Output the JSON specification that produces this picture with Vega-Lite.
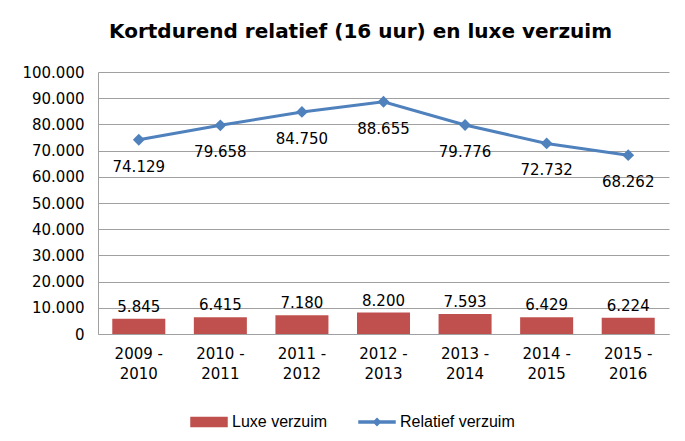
{
  "$schema": "https://vega.github.io/schema/vega-lite/v6.json",
  "width": 571,
  "height": 262,
  "autosize": {"type": "none"},
  "padding": {"left": 98, "top": 72, "right": 16, "bottom": 107},
  "background": "white",
  "config": {
    "locale": {"number": {"decimal": ",", "thousands": ".", "grouping": [3], "currency": ["€", ""]}},
    "view": {"stroke": null},
    "font": "DejaVu Sans",
    "axisY": {
      "title": null,
      "format": ",d",
      "grid": true,
      "gridColor": "#A0A0A0",
      "domainColor": "#A0A0A0",
      "ticks": false,
      "labelOverlap": false,
      "labelPadding": 14,
      "labelFont": "DejaVu Sans",
      "labelFontSize": 15,
      "labelColor": "black"
    }
  },
  "title": {
    "text": "Kortdurend relatief (16 uur) en luxe verzuim",
    "font": "DejaVu Sans",
    "fontSize": 20,
    "fontWeight": "bold",
    "color": "black",
    "anchor": "middle",
    "dx": -23,
    "offset": 23
  },
  "data": {
    "values": [
      {"jaar": "2009 - 2010", "luxe": 5845, "relatief": 74129},
      {"jaar": "2010 - 2011", "luxe": 6415, "relatief": 79658},
      {"jaar": "2011 - 2012", "luxe": 7180, "relatief": 84750},
      {"jaar": "2012 - 2013", "luxe": 8200, "relatief": 88655},
      {"jaar": "2013 - 2014", "luxe": 7593, "relatief": 79776},
      {"jaar": "2014 - 2015", "luxe": 6429, "relatief": 72732},
      {"jaar": "2015 - 2016", "luxe": 6224, "relatief": 68262}
    ]
  },
  "encoding": {
    "x": {
      "field": "jaar",
      "type": "nominal",
      "sort": null,
      "scale": {"paddingInner": 0.35, "paddingOuter": 0.175},
      "axis": {
        "title": null,
        "labelAngle": 0,
        "ticks": false,
        "domainColor": "#A0A0A0",
        "labelFont": "DejaVu Sans",
        "labelFontSize": 15,
        "labelColor": "black",
        "labelPadding": 12,
        "labelLineHeight": 20,
        "labelExpr": "[slice(datum.label, 0, 6), slice(datum.label, 7)]"
      }
    }
  },
  "layer": [
    {
      "mark": {"type": "bar"},
      "encoding": {
        "y": {
          "field": "luxe",
          "type": "quantitative",
          "scale": {"domain": [0, 100000]},
          "axis": {"values": [0, 10000, 20000, 30000, 40000, 50000, 60000, 70000, 80000, 90000, 100000]}
        },
        "color": {
          "datum": "Luxe verzuim",
          "scale": {"domain": ["Luxe verzuim", "Relatief verzuim"], "range": ["#C0504D", "#4F81BD"]},
          "legend": {
            "orient": "none",
            "legendX": 92,
            "legendY": 331,
            "direction": "horizontal",
            "title": null,
            "padding": 0,
            "symbolSize": 1296,
            "labelFont": "Liberation Sans",
            "labelFontSize": 16,
            "labelColor": "black",
            "labelOffset": 4,
            "columnPadding": 28,
            "encode": {
              "symbols": {
                "update": {
                  "shape": {"signal": "datum.value === 'Luxe verzuim' ? 'M-1,-0.25H1V0.25H-1Z' : 'M-1,-0.05H1V0.05H-1Z M0,-0.19L0.19,0L0,0.19L-0.19,0Z'"},
                  "fill": {"signal": "datum.value === 'Luxe verzuim' ? '#C0504D' : '#4F81BD'"},
                  "fillOpacity": {"value": 1},
                  "stroke": {"value": "transparent"},
                  "opacity": {"value": 1}
                }
              }
            }
          }
        }
      }
    },
    {
      "mark": {"type": "text", "baseline": "bottom", "dy": -4, "font": "DejaVu Sans", "fontSize": 15, "color": "black"},
      "encoding": {
        "y": {
          "field": "luxe",
          "type": "quantitative",
          "axis": {"values": [0, 10000, 20000, 30000, 40000, 50000, 60000, 70000, 80000, 90000, 100000]}
        },
        "text": {"field": "luxe", "type": "quantitative", "format": ",d"}
      }
    },
    {
      "mark": {"type": "line", "strokeWidth": 3, "point": {"shape": "diamond", "size": 140, "filled": true}},
      "encoding": {
        "y": {
          "field": "relatief",
          "type": "quantitative",
          "axis": {"values": [0, 10000, 20000, 30000, 40000, 50000, 60000, 70000, 80000, 90000, 100000]}
        },
        "color": {"datum": "Relatief verzuim"}
      }
    },
    {
      "mark": {"type": "text", "baseline": "middle", "dy": 27, "font": "DejaVu Sans", "fontSize": 15, "color": "black"},
      "encoding": {
        "y": {
          "field": "relatief",
          "type": "quantitative",
          "axis": {"values": [0, 10000, 20000, 30000, 40000, 50000, 60000, 70000, 80000, 90000, 100000]}
        },
        "text": {"field": "relatief", "type": "quantitative", "format": ",d"}
      }
    }
  ]
}
